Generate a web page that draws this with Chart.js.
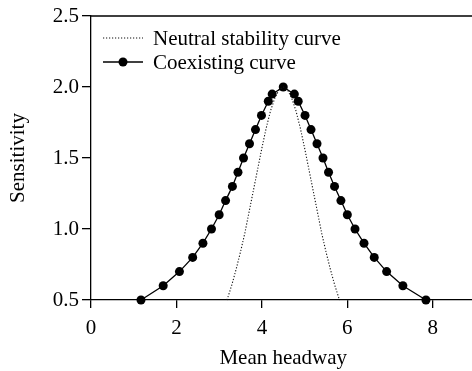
<!DOCTYPE html>
<html>
<head>
<meta charset="utf-8">
<script src="https://cdn.jsdelivr.net/npm/chart.js@4/dist/chart.umd.min.js"></script>
<style>
  html, body { margin: 0; padding: 0; background: #fff; overflow: hidden; }
  #wrap { width: 480px; height: 371px; }
</style>
</head>
<body>
<div id="wrap"><canvas id="sensChart" width="480" height="371"></canvas></div>
<script>
// values
const neutralX = [3.18, 3.2, 3.3, 3.4, 3.5, 3.6, 3.7, 3.8, 3.9, 4.0, 4.1, 4.2, 4.3, 4.4, 4.5,
                  4.6, 4.7, 4.8, 4.9, 5.0, 5.1, 5.2, 5.3, 5.4, 5.5, 5.6, 5.7, 5.8, 5.82];
const neutralY = [0.5, 0.515, 0.61, 0.72, 0.84, 0.97, 1.12, 1.27, 1.42, 1.57, 1.71, 1.83, 1.92, 1.98, 2.0,
                  1.98, 1.92, 1.83, 1.71, 1.57, 1.42, 1.27, 1.12, 0.97, 0.84, 0.72, 0.61, 0.515, 0.5];

const coexX = [1.17, 1.69, 2.07, 2.38, 2.62, 2.82, 3.0, 3.15, 3.31, 3.44, 3.57, 3.71, 3.85, 3.99, 4.15, 4.24, 4.5,
               4.76, 4.85, 5.01, 5.15, 5.29, 5.43, 5.56, 5.70, 5.85, 6.0, 6.18, 6.39, 6.63, 6.92, 7.30, 7.84];
const coexY = [0.5, 0.6, 0.7, 0.8, 0.9, 1.0, 1.1, 1.2, 1.3, 1.4, 1.5, 1.6, 1.7, 1.8, 1.9, 1.95, 2.0,
               1.95, 1.9, 1.8, 1.7, 1.6, 1.5, 1.4, 1.3, 1.2, 1.1, 1.0, 0.9, 0.8, 0.7, 0.6, 0.5];

const seriesNames = ['Neutral stability curve', 'Coexisting curve'];
const xTicks = [0, 2, 4, 6, 8];
const yTicks = [0.5, 1.0, 1.5, 2.0, 2.5];

const FONT = "'Liberation Serif', 'Times New Roman', serif";
const FSIZE = 21;

function toPoints(xs, ys) {
    return xs.map((x, i) => ({ x: x, y: ys[i] }));
}

// frame on top/right + legend inside plot
const framePlugin = {
    id: 'frame',
    afterDraw(chart) {
        const ctx = chart.ctx;
        const a = chart.chartArea;
        ctx.save();
        ctx.strokeStyle = '#000';
        ctx.lineWidth = 1.3;
        ctx.beginPath();
        ctx.moveTo(a.left, a.top);
        ctx.lineTo(a.right, a.top);
        ctx.lineTo(a.right, a.bottom);
        ctx.stroke();

        // legend
        const ds = chart.data.datasets;
        const x0 = 103, x1 = 143, tx = 153;
        const rows = [38, 62];
        ctx.font = FSIZE + 'px ' + FONT;
        ctx.textBaseline = 'middle';
        ds.forEach((d, i) => {
            const y = rows[i];
            ctx.strokeStyle = d.borderColor;
            ctx.lineWidth = d.borderWidth;
            ctx.setLineDash(d.borderDash || []);
            ctx.beginPath();
            ctx.moveTo(x0, y);
            ctx.lineTo(x1, y);
            ctx.stroke();
            ctx.setLineDash([]);
            if (d.pointRadius > 0) {
                ctx.beginPath();
                ctx.arc((x0 + x1) / 2, y, d.pointRadius, 0, Math.PI * 2);
                ctx.fillStyle = d.pointBackgroundColor;
                ctx.fill();
            }
            ctx.fillStyle = '#000';
            ctx.fillText(d.label, tx, y + 1);
        });
        ctx.restore();
    }
};

const ctx = document.getElementById('sensChart').getContext('2d');
new Chart(ctx, {
    type: 'scatter',
    data: {
        datasets: [{
            label: seriesNames[0],
            data: toPoints(neutralX, neutralY),
            showLine: true,
            borderColor: '#111',
            borderWidth: 1.1,
            borderDash: [1.2, 1.8],
            pointRadius: 0,
            clip: false
        }, {
            label: seriesNames[1],
            data: toPoints(coexX, coexY),
            showLine: true,
            borderColor: '#000',
            borderWidth: 1.3,
            pointRadius: 4.5,
            pointBackgroundColor: '#000',
            pointBorderWidth: 0,
            clip: false
        }]
    },
    options: {
        responsive: false,
        animation: false,
        devicePixelRatio: 1,
        layout: { padding: { top: 16, right: 3, left: 0, bottom: 0 } },
        plugins: {
            legend: { display: false },
            tooltip: { enabled: false }
        },
        scales: {
            x: {
                type: 'linear',
                min: 0,
                max: 9,
                afterBuildTicks: (s) => { s.ticks = xTicks.map(v => ({ value: v })); },
                afterFit: (s) => { s.height = 71; },
                grid: { display: true, drawOnChartArea: false, color: '#000', lineWidth: 1.3, tickLength: 8 },
                border: { color: '#000', width: 1.3 },
                ticks: { color: '#000', font: { family: FONT, size: FSIZE }, padding: 8, maxRotation: 0 },
                title: {
                    display: true,
                    text: 'Mean headway',
                    color: '#000',
                    font: { family: FONT, size: FSIZE },
                    padding: { top: 0, bottom: 0 }
                }
            },
            y: {
                type: 'linear',
                min: 0.5,
                max: 2.5,
                afterBuildTicks: (s) => { s.ticks = yTicks.map(v => ({ value: v })); },
                afterFit: (s) => { s.width = 91; },
                grid: { display: true, drawOnChartArea: false, color: '#000', lineWidth: 1.3, tickLength: 9 },
                border: { color: '#000', width: 1.3 },
                ticks: {
                    color: '#000',
                    font: { family: FONT, size: FSIZE },
                    padding: 3,
                    callback: (v) => v.toFixed(1)
                },
                title: {
                    display: true,
                    text: 'Sensitivity',
                    color: '#000',
                    font: { family: FONT, size: FSIZE },
                    padding: { top: 6, bottom: 0 }
                }
            }
        }
    },
    plugins: [framePlugin]
});
</script>
</body>
</html>
